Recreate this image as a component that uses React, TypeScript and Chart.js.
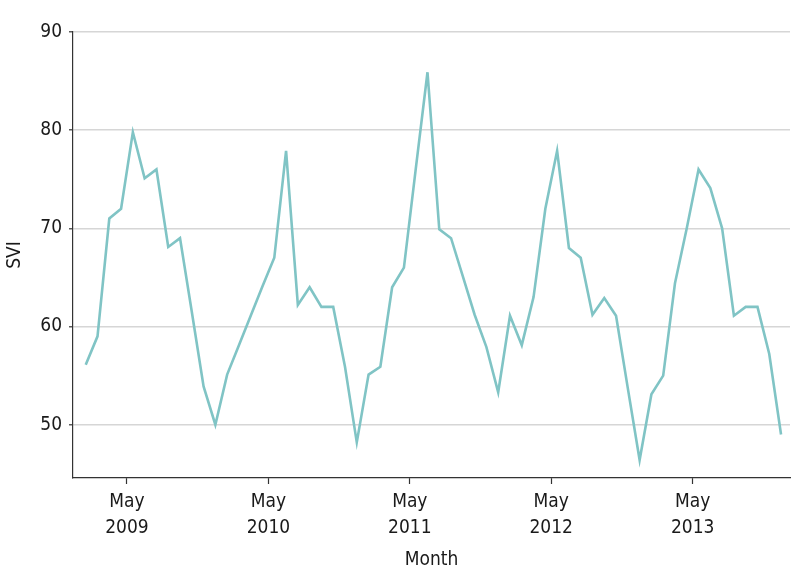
import React, { useEffect, useRef } from 'react';
import { Chart, registerables } from 'chart.js';

Chart.register(...registerables);

// Monthly search volume index (SVI), Jan 2009 – Dec 2013
const months = [
  'Jan 2009', 'Feb 2009', 'Mar 2009', 'Apr 2009', 'May 2009', 'Jun 2009', 'Jul 2009', 'Aug 2009', 'Sep 2009', 'Oct 2009', 'Nov 2009', 'Dec 2009',
  'Jan 2010', 'Feb 2010', 'Mar 2010', 'Apr 2010', 'May 2010', 'Jun 2010', 'Jul 2010', 'Aug 2010', 'Sep 2010', 'Oct 2010', 'Nov 2010', 'Dec 2010',
  'Jan 2011', 'Feb 2011', 'Mar 2011', 'Apr 2011', 'May 2011', 'Jun 2011', 'Jul 2011', 'Aug 2011', 'Sep 2011', 'Oct 2011', 'Nov 2011', 'Dec 2011',
  'Jan 2012', 'Feb 2012', 'Mar 2012', 'Apr 2012', 'May 2012', 'Jun 2012', 'Jul 2012', 'Aug 2012', 'Sep 2012', 'Oct 2012', 'Nov 2012', 'Dec 2012',
  'Jan 2013', 'Feb 2013', 'Mar 2013', 'Apr 2013', 'May 2013', 'Jun 2013', 'Jul 2013', 'Aug 2013', 'Sep 2013', 'Oct 2013', 'Nov 2013', 'Dec 2013',
];

const svi = [
  56.1, 59.0, 71.0, 72.0, 79.8, 75.1, 76.0, 68.1, 69.0, 61.5, 53.9, 50.0,
  55.1, 58.1, 61.1, 64.1, 67.0, 77.9, 62.2, 64.0, 62.0, 62.0, 55.9, 48.2,
  55.1, 55.9, 64.0, 66.0, 76.0, 85.9, 69.9, 69.0, 65.1, 61.2, 57.9, 53.3,
  61.1, 58.1, 63.0, 72.0, 77.9, 68.0, 67.0, 61.2, 62.9, 61.1, 53.7, 46.4,
  53.1, 55.0, 64.4, 70.0, 76.0, 74.1, 70.0, 61.1, 62.0, 62.0, 57.2, 49.0,
];

// x-axis ticks: months since start of Jan 2009 (May 1 of each year)
const xTickMonths = [4, 16, 28, 40, 52];
const xTickLabels = [
  ['May', '2009'],
  ['May', '2010'],
  ['May', '2011'],
  ['May', '2012'],
  ['May', '2013'],
];
const yTickValues = [50, 60, 70, 80, 90];

const FONT = "'DejaVu Sans Condensed', 'Liberation Sans Narrow', 'Noto Sans', sans-serif";
const TEXT = '#1a1a1a';
const AXIS = '#333333';

export default function App() {
  const canvasRef = useRef<HTMLCanvasElement | null>(null);

  useEffect(() => {
    if (!canvasRef.current) return;
    // data points sit at mid-month
    const points = svi.map((v, i) => ({ x: i + 0.5, y: v, label: months[i] }));
    const chart = new Chart(canvasRef.current, {
      type: 'line',
      data: {
        datasets: [
          {
            label: 'SVI',
            data: points,
            borderColor: '#80c4c5',
            backgroundColor: '#80c4c5',
            borderWidth: 2.6,
            pointRadius: 0,
            tension: 0,
            fill: false,
          },
        ],
      },
      options: {
        animation: false,
        responsive: false,
        devicePixelRatio: 1,
        layout: { padding: { top: 32, right: 4, left: 0, bottom: 0 } },
        plugins: {
          legend: { display: false },
          tooltip: { enabled: false },
        },
        scales: {
          x: {
            type: 'linear',
            min: -0.58,
            max: 60.26,
            afterBuildTicks: (scale: any) => {
              scale.ticks = xTickMonths.map((v) => ({ value: v }));
            },
            afterFit: (scale: any) => {
              scale.height = 110;
            },
            ticks: {
              autoSkip: false,
              maxRotation: 0,
              minRotation: 0,
              padding: 5,
              color: TEXT,
              font: { family: FONT, size: 19, lineHeight: 1.37 },
              callback: (_v: any, index: number) => xTickLabels[index],
            },
            grid: {
              drawOnChartArea: false,
              drawTicks: true,
              tickLength: 6,
              tickColor: AXIS,
              tickWidth: 1.2,
            },
            border: { display: true, color: AXIS, width: 1.2 },
            title: {
              display: true,
              text: 'Month',
              color: TEXT,
              font: { family: FONT, size: 19 },
              padding: { top: 0, bottom: 17 },
            },
          },
          y: {
            type: 'linear',
            min: 44.57,
            max: 90,
            afterBuildTicks: (scale: any) => {
              scale.ticks = yTickValues.map((v) => ({ value: v }));
            },
            afterFit: (scale: any) => {
              scale.width = 73;
            },
            ticks: {
              padding: 7,
              color: TEXT,
              font: { family: FONT, size: 19 },
            },
            grid: {
              color: '#d6d6d6',
              lineWidth: 1.6,
              tickLength: 4,
              tickColor: AXIS,
              tickWidth: 1.2,
            },
            border: { display: true, color: AXIS, width: 1.2 },
            title: {
              display: true,
              text: 'SVI',
              color: TEXT,
              font: { family: FONT, size: 19 },
              padding: { top: 4, bottom: 0 },
            },
          },
        },
      },
    });
    return () => chart.destroy();
  }, []);

  return (
    <div style={{ position: 'absolute', left: 0, top: 0, width: 794, height: 588, background: '#fff' }}>
      <canvas ref={canvasRef} width={794} height={588} style={{ display: 'block' }} />
    </div>
  );
}
